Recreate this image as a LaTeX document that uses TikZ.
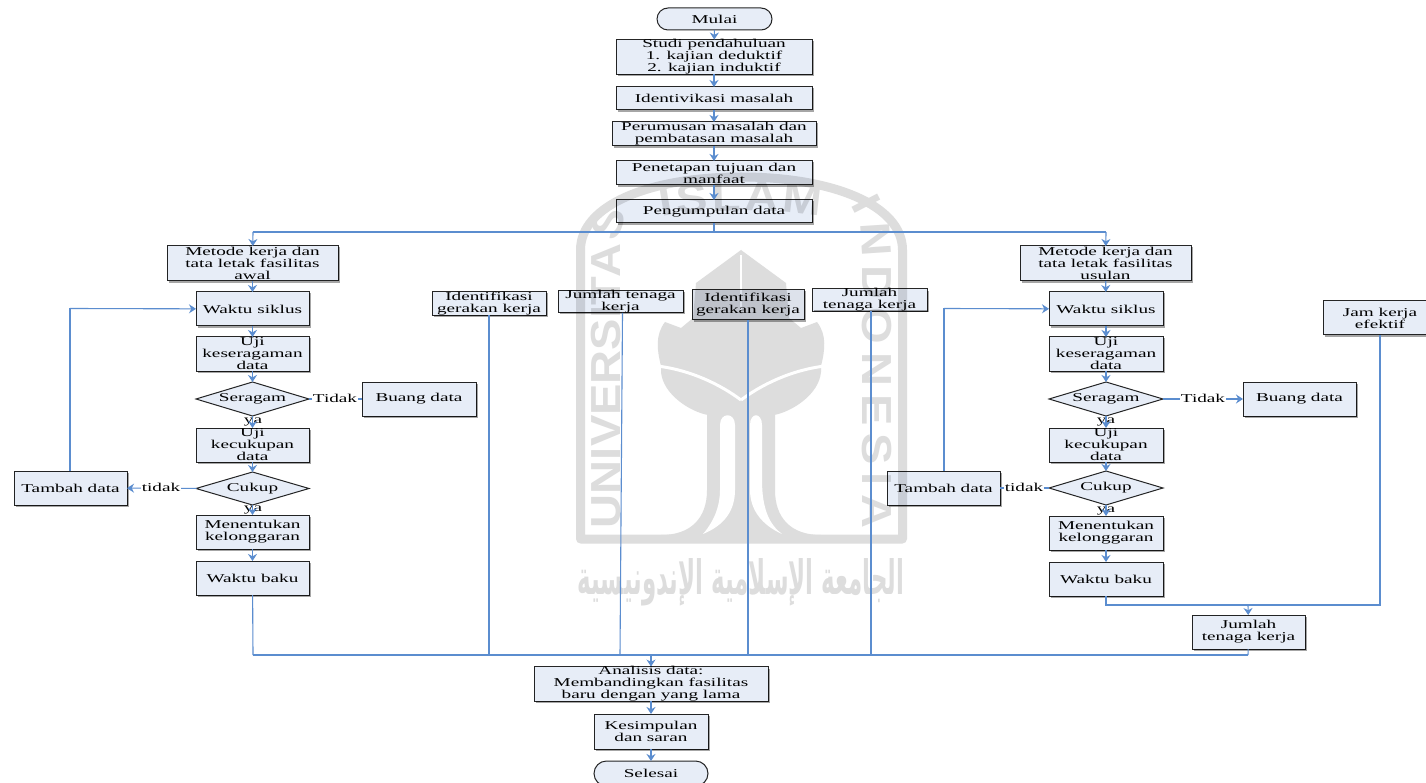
\documentclass[tikz,border=0pt]{standalone}
\usepackage{fontspec}
\usepackage{graphicx}
\usetikzlibrary{arrows.meta,shapes.geometric,shapes.misc,decorations.text}
\TeXXeTstate=1
\setmainfont[FakeStretch=1.6]{Liberation Serif}
\newfontfamily\wmfont[FakeStretch=1.12]{Liberation Sans Bold}
\newfontfamily\arabicfont[Script=Arabic]{DejaVu Sans}
\definecolor{wm}{HTML}{DDDDDD}
\definecolor{lineblue}{HTML}{5B8DCF}
\definecolor{boxfill}{HTML}{E7EDF7}
\definecolor{boxdark}{HTML}{DDE2EB}
\tikzset{
  x=1pt,y=-1pt,
  every node/.style={font=\fontsize{12}{12}\selectfont,align=center,inner sep=0pt,outer sep=0pt},
  boxbase/.style={draw=black!85,line width=1pt,fill=boxfill},
  boxedge/.style={draw=black!35,line width=1.2pt},
  conn/.style={draw=lineblue,line width=1.1pt},
  arr/.style={conn,-{Stealth[length=7pt,width=9pt]}},
  lab/.style={fill=white,inner xsep=1pt,inner ysep=0pt},
  wmtext/.style={decorate,decoration={text along path,text align=fit to path,
    text={|\wmfont\fontsize{42}{42}\selectfont\color{wm}|#1}}}
}
\newcommand\bx[6]{\draw[boxedge] (#2+1.5,#5+1) -- (#4+1,#5+1) -- (#4+1,#3+1.5);
  \node[boxbase,minimum width={(#4-#2)*1pt},minimum height={(#5-#3)*1pt}] (#1) at ({(#2+#4)/2},{(#3+#5)/2}) {#6};}
\newcommand\dm[6]{\node[diamond,draw=black!85,line width=1pt,fill=boxfill,aspect=3.3,minimum width={(#4-#2)*1pt},minimum height={(#5-#3)*1pt}] (#1) at ({(#2+#4)/2},{(#3+#5)/2}) {#6};}
\newcommand\tm[6]{\node[rounded rectangle,draw=black!85,line width=1pt,fill=boxfill,minimum width={(#4-#2)*1pt},minimum height={(#5-#3)*1pt}] (#1) at ({(#2+#4)/2},{(#3+#5)/2}) {#6};}
\begin{document}
\begin{tikzpicture}
\clip (0,0) rectangle (1426,783);
\fill[white] (0,0) rectangle (1426,783);
% --- watermark ---
\draw[wm,line width=9pt,line join=round] (580.5,539) -- (580.5,250) .. controls (580.5,205) and (650,177) .. (741,177) .. controls (832,177) and (902.5,205) .. (902.5,250) -- (902.5,539) -- cycle;
\path[wmtext=UNIVERSITAS] (620,528) -- (620,240) .. controls (620,232) and (622,226) .. (626,220);
\path[wmtext=ISLAM] (662,217) .. controls (700,209) and (782,209) .. (820,217);
\path[wmtext=INDONESIA] (850,205) .. controls (858,218) and (862,232) .. (862,245) -- (862,528);
\foreach \s in {-1,1}{
  \begin{scope}[shift={(741,0)},xscale=\s]
    \fill[wm] (0,250) -- (45,283) -- (48,318) -- (60,328) -- (76,322) .. controls (86,335) and (84,350) .. (80,366) -- (80,372) .. controls (78,395) and (50,412) .. (33,415) -- (0,415) -- cycle;
    \draw[white,line width=3pt] (84,366) .. controls (50,370) and (20,385) .. (0,400);
    \fill[wm] (0,410) -- (34,410) -- (34,490) .. controls (34,518) and (50,535) .. (80,535) -- (0,540) -- cycle;
  \end{scope}
}
\draw[white,line width=2pt] (741,255) -- (741,310);
\fill[white] (720,425) .. controls (720,412) and (735,412) .. (735,425) -- (735,490) .. controls (735,510) and (725,525) .. (703,534) .. controls (715,520) and (720,505) .. (720,490) -- cycle;
\fill[white] (750,425) .. controls (750,412) and (762,412) .. (762,425) -- (762,480) .. controls (762,510) and (770,525) .. (782,534) .. controls (762,525) and (750,510) .. (750,490) -- cycle;
\node (wmarabic) at (741,582) {\color{wm}\resizebox{327pt}{36pt}{\arabicfont\bfseries\beginR الجامعة الإسلامية الإندونيسية\endR}};
% --- chart ---
\begin{scope}[blend mode=multiply]
\tm{mulai}{657}{8}{772}{30}{Mulai}
\bx{studi}{616}{40}{812}{74}{Studi pendahuluan\\ 1. kajian deduktif\\ 2. kajian induktif}
\bx{ident}{616}{87}{812}{110}{Identivikasi masalah}
\bx{rumus}{612}{122}{816}{146}{Perumusan masalah dan\\pembatasan masalah}
\bx{tetap}{616}{161}{812}{185}{Penetapan tujuan dan\\manfaat}
\bx{kumpul}{616}{200}{812}{223}{Pengumpulan data}
% left column
\bx{lmet}{167}{246}{338}{281}{Metode kerja dan\\tata letak fasilitas\\awal}
\bx{lsik}{196}{292}{309}{326}{Waktu siklus}
\bx{lseg}{196}{337}{309}{371}{Uji\\keseragaman\\data}
\dm{lser}{196}{382}{309}{416}{Seragam}
\bx{lbua}{362}{382}{476}{416}{Buang data}
\bx{lcuk}{196}{428}{309}{462}{Uji\\kecukupan\\data}
\dm{lcup}{196}{472}{309}{505}{Cukup}
\bx{ltam}{14}{471}{127}{505}{Tambah data}
\bx{lmen}{196}{515}{309}{549}{Menentukan\\kelonggaran}
\bx{lbak}{196}{561}{309}{595}{Waktu baku}
% middle boxes
\bx{ida}{432}{292}{546}{315}{Identifikasi\\gerakan kerja}
\bx{juma}{558}{291}{683}{312}{Jumlah tenaga\\kerja}
\draw[boxedge] (693.5,321) -- (805,321) -- (805,291.5);
\node[boxbase,fill=boxdark,minimum width=112pt,minimum height=30pt] (idb) at (748,305) {Identifikasi\\gerakan kerja};
\bx{jumb}{812}{290}{927}{310}{Jumlah\\tenaga kerja}
% right column
\bx{rmet}{1020}{246}{1191}{281}{Metode kerja dan\\tata letak fasilitas\\usulan}
\bx{rsik}{1049}{292}{1163}{326}{Waktu siklus}
\bx{rseg}{1049}{337}{1163}{371}{Uji\\keseragaman\\data}
\dm{rser}{1049}{382}{1163}{416}{Seragam}
\bx{rbua}{1243}{382}{1356}{416}{Buang data}
\bx{rcuk}{1049}{428}{1163}{462}{Uji\\kecukupan\\data}
\dm{rcup}{1049}{471}{1163}{505}{Cukup}
\bx{rtam}{887}{471}{1000}{505}{Tambah data}
\bx{rmen}{1049}{516}{1163}{550}{Menentukan\\kelonggaran}
\bx{rbak}{1049}{562}{1163}{596}{Waktu baku}
\bx{jam}{1323}{301}{1437}{335}{Jam kerja\\efektif}
\bx{rjum}{1192}{615}{1305}{649}{Jumlah\\tenaga kerja}
% bottom
\bx{anal}{534}{667}{768}{701}{Analisis data:\\Membandingkan fasilitas\\baru dengan yang lama}
\bx{kes}{594}{714}{708}{749}{Kesimpulan\\dan saran}
\tm{sel}{594}{761}{708}{786}{Selesai}
\end{scope}
% helper points
\coordinate (tb) at (714,232);
\coordinate (tbl) at (253,232);
\coordinate (tbr) at (1106,232);
\coordinate (bl) at (253,655);
\coordinate (br) at (1248,655);
\coordinate (bc) at (651,655);
\coordinate (rj) at (1248,605);
\coordinate (rjl) at (1106,605);
\coordinate (rjr) at (1380,605);
\coordinate (ljoin) at (620,655);
\coordinate (lloop) at (70,308.5);
\coordinate (rloop) at (944,308.5);
% connectors: top column
\draw[arr] (mulai) -- (studi);
\draw[arr] (studi) -- (ident);
\draw[arr] (ident) -- (rumus);
\draw[arr] (rumus) -- (tetap);
\draw[arr] (tetap) -- (kumpul);
\draw[conn] (kumpul) -- (tb);
\draw[conn] (tbl) -- (tbr);
\draw[arr] (tbl) -- (lmet);
\draw[arr] (tbr) -- (rmet);
% left
\draw[arr] (lmet) -- (lsik);
\draw[arr] (lsik) -- (lseg);
\draw[arr] (lseg) -- (lser);
\draw[conn] (lser) -- (lbua);
\draw[arr] (lcuk) -- (lcup);
\draw[arr] (lcup) -- (ltam);
\draw[conn] (ltam.north -| lloop) -- (lloop);
\draw[arr] (lloop) -- (lsik);
\draw[arr] (lmen) -- (lbak);
\draw[conn] (lbak) -- (bl);
% right
\draw[arr] (rmet) -- (rsik);
\draw[arr] (rsik) -- (rseg);
\draw[arr] (rseg) -- (rser);
\draw[arr] (rser) -- (rbua);
\draw[arr] (rcuk) -- (rcup);
\draw[conn] (rcup) -- (rtam);
\draw[conn] (rtam.north -| rloop) -- (rloop);
\draw[arr] (rloop) -- (rsik);
\draw[arr] (rmen) -- (rbak);
\draw[conn] (rbak) -- (rjl) -- (rjr) -- (jam);
\draw[arr] (rj) -- (rjum);
% bottom bus
\draw[conn] (bl) -- (br);
\draw[conn] (rjum) -- (br);
\draw[conn] (ida) -- (ida.south |- bl);
\draw[conn] ([xshift=2pt]juma.south) -- (ljoin);
\draw[conn] (idb) -- (idb.south |- bl);
\draw[conn] ([xshift=1.5pt]jumb.south) -- ([xshift=1.5pt]jumb.south |- bl);
\draw[arr] (bc) -- (anal);
\draw[arr] (anal) -- (kes);
\draw[arr] (kes) -- (sel);
% labels lying on the connectors
\node[lab] (ltidak) at (335,398) {Tidak};
\node[lab] (lya1) at (253,421.5) {ya};
\node[lab] (lya2) at (253,510) {ya};
\node[lab] (ltid2) at (161,487) {tidak};
\node[lab] (rtidak) at (1203,398) {Tidak};
\node[lab] (rya1) at (1106,421.5) {ya};
\node[lab] (rya2) at (1106,510.5) {ya};
\node[lab] (rtid2) at (1024,487) {tidak};
\draw[arr] (lser) -- (lcuk);
\draw[arr] (lcup) -- (lmen);
\draw[arr] (rser) -- (rcuk);
\draw[arr] (rcup) -- (rmen);
\end{tikzpicture}
\end{document}
